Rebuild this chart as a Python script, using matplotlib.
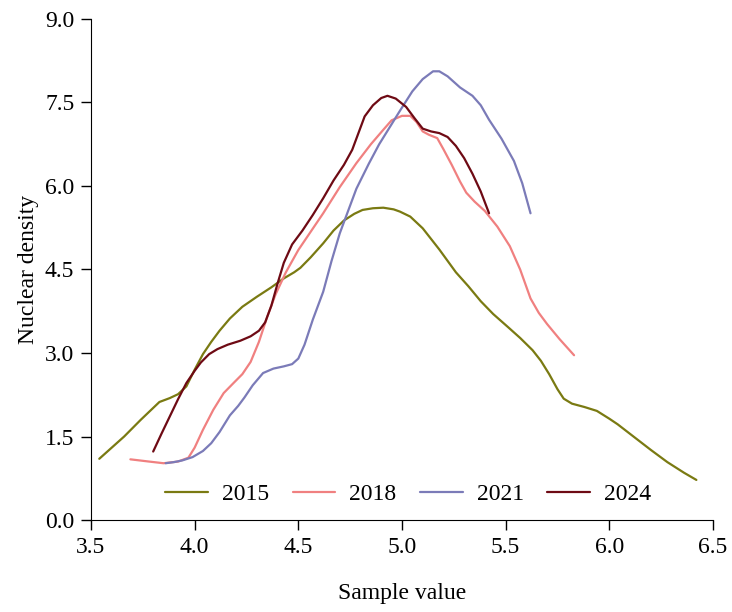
import matplotlib.pyplot as plt

# values
x_2015 = [3.54, 3.66, 3.74, 3.83, 3.88, 3.92, 3.96, 4.00, 4.04, 4.08, 4.12, 4.17, 4.23, 4.30,
          4.37, 4.43, 4.48, 4.51, 4.56, 4.62, 4.67, 4.72, 4.77, 4.81, 4.86, 4.91, 4.96, 4.99,
          5.04, 5.10, 5.18, 5.26, 5.32, 5.38, 5.44, 5.51, 5.57, 5.63, 5.67, 5.71, 5.75, 5.78,
          5.82, 5.88, 5.94, 6.00, 6.04, 6.12, 6.20, 6.28, 6.36, 6.42]
y_2015 = [1.10, 1.50, 1.80, 2.12, 2.19, 2.26, 2.40, 2.70, 2.98, 3.20, 3.40, 3.62, 3.83, 4.01,
          4.18, 4.34, 4.45, 4.53, 4.72, 4.97, 5.20, 5.38, 5.50, 5.57, 5.60, 5.61, 5.58, 5.54,
          5.45, 5.24, 4.86, 4.45, 4.20, 3.93, 3.70, 3.47, 3.27, 3.05, 2.86, 2.62, 2.35, 2.18,
          2.09, 2.03, 1.96, 1.82, 1.72, 1.49, 1.26, 1.04, 0.85, 0.72]

x_2018 = [3.69, 3.78, 3.85, 3.92, 3.97, 4.00, 4.04, 4.09, 4.14, 4.19, 4.23, 4.27, 4.31, 4.35,
          4.39, 4.44, 4.50, 4.56, 4.62, 4.70, 4.78, 4.85, 4.91, 4.95, 5.00, 5.04, 5.07, 5.10,
          5.13, 5.17, 5.20, 5.24, 5.28, 5.31, 5.35, 5.40, 5.46, 5.52, 5.57, 5.62, 5.66, 5.70,
          5.76, 5.83]
y_2018 = [1.09, 1.05, 1.02, 1.05, 1.12, 1.30, 1.62, 1.98, 2.28, 2.47, 2.62, 2.84, 3.20, 3.65,
          4.05, 4.45, 4.85, 5.18, 5.51, 5.98, 6.41, 6.75, 7.01, 7.18, 7.26, 7.26, 7.15, 6.98,
          6.92, 6.86, 6.66, 6.38, 6.08, 5.88, 5.72, 5.55, 5.27, 4.92, 4.50, 3.98, 3.72, 3.52,
          3.25, 2.96]

x_2021 = [3.86, 3.90, 3.94, 3.99, 4.04, 4.08, 4.12, 4.17, 4.21, 4.24, 4.28, 4.33, 4.38, 4.43,
          4.47, 4.50, 4.53, 4.57, 4.62, 4.66, 4.70, 4.74, 4.78, 4.84, 4.89, 4.94, 4.99, 5.05,
          5.10, 5.15, 5.18, 5.22, 5.28, 5.34, 5.38, 5.42, 5.48, 5.54, 5.58, 5.62]
y_2021 = [1.02, 1.04, 1.07, 1.13, 1.24, 1.38, 1.58, 1.88, 2.05, 2.20, 2.42, 2.64, 2.72, 2.76,
          2.80, 2.90, 3.15, 3.60, 4.10, 4.65, 5.15, 5.55, 5.95, 6.40, 6.75, 7.05, 7.35, 7.70,
          7.92, 8.06, 8.06, 7.97, 7.77, 7.62, 7.45, 7.19, 6.85, 6.45, 6.05, 5.51]

x_2024 = [3.80, 3.84, 3.88, 3.92, 3.96, 4.00, 4.03, 4.07, 4.11, 4.16, 4.22, 4.27, 4.31, 4.34,
          4.37, 4.40, 4.43, 4.47, 4.52, 4.57, 4.62, 4.67, 4.72, 4.76, 4.79, 4.82, 4.86, 4.90,
          4.93, 4.97, 5.02, 5.06, 5.10, 5.14, 5.18, 5.22, 5.26, 5.30, 5.34, 5.38, 5.42]
y_2024 = [1.23, 1.55, 1.86, 2.17, 2.46, 2.68, 2.83, 2.98, 3.07, 3.15, 3.22, 3.30, 3.40, 3.55,
          3.85, 4.25, 4.62, 4.95, 5.20, 5.48, 5.78, 6.10, 6.38, 6.65, 6.95, 7.25, 7.45, 7.58,
          7.62, 7.57, 7.42, 7.22, 7.03, 6.98, 6.95, 6.88, 6.72, 6.50, 6.22, 5.90, 5.51]

years = ['2015', '2018', '2021', '2024']
colors = ['#7a7a12', '#f08080', '#7b7bb8', '#6e0a14']

x_ticks = [3.5, 4.0, 4.5, 5.0, 5.5, 6.0, 6.5]
y_ticks = [0.0, 1.5, 3.0, 4.5, 6.0, 7.5, 9.0]

plt.rcParams['font.family'] = ['Liberation Serif', 'DejaVu Serif']
plt.rcParams['font.size'] = 17

fig = plt.figure(figsize=(7.32, 6.12), dpi=100)
ax = fig.add_axes([0.1243, 0.1503, 0.8497, 0.8187])

series = [(x_2015, y_2015), (x_2018, y_2018), (x_2021, y_2021), (x_2024, y_2024)]
for (xs, ys), year, c in zip(series, years, colors):
    ax.plot(xs, ys, color=c, linewidth=1.6, label=year,
            solid_capstyle='round', solid_joinstyle='round')

ax.set_xlim(3.5, 6.5)
ax.set_ylim(0, 9)
ax.set_xticks(x_ticks)
ax.set_xticklabels([f'{v:.1f}' for v in x_ticks])
ax.set_yticks(y_ticks)
ax.set_yticklabels([f'{v:.1f}' for v in y_ticks])
ax.spines['top'].set_visible(False)
ax.spines['right'].set_visible(False)
ax.tick_params(direction='out', length=7, width=1, pad=5)
ax.set_xlabel('Sample value', labelpad=18)
ax.set_ylabel('Nuclear density', labelpad=4)

ax.legend(loc='lower center', bbox_to_anchor=(0.51, -0.012), ncol=4, frameon=False,
          handlelength=1.8, columnspacing=1.0, handletextpad=0.6, fontsize=17)

fig.savefig('out.png', dpi=100)
